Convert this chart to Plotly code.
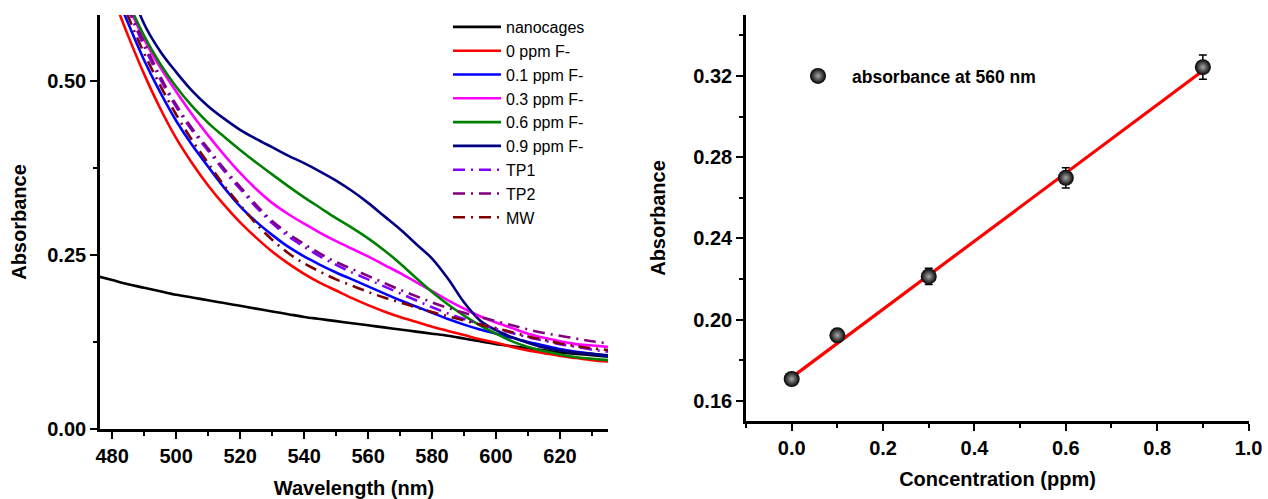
import plotly.graph_objects as go

# ---------------- Left panel data (UV-Vis spectra) ----------------
wavelength = [475, 480, 485, 490, 495, 500, 505, 510, 515, 520, 525, 530, 535, 540, 545, 550, 555,
              560, 565, 570, 575, 580, 585, 590, 595, 600, 605, 610, 615, 620, 625, 630, 635]
nanocages = [0.220, 0.214, 0.208, 0.203, 0.198, 0.193, 0.189, 0.185, 0.181, 0.177, 0.173, 0.169, 0.165,
             0.161, 0.158, 0.155, 0.152, 0.149, 0.146, 0.143, 0.140, 0.137, 0.134, 0.130, 0.126, 0.122,
             0.119, 0.116, 0.113, 0.110, 0.108, 0.106, 0.104]
ppm_0 = [0.690, 0.625, 0.565, 0.510, 0.461, 0.418, 0.382, 0.350, 0.322, 0.297, 0.275, 0.255, 0.238,
         0.223, 0.210, 0.199, 0.188, 0.178, 0.169, 0.161, 0.154, 0.147, 0.141, 0.135, 0.129, 0.124,
         0.118, 0.113, 0.109, 0.105, 0.102, 0.099, 0.097]
ppm_0_1 = [0.700, 0.640, 0.583, 0.530, 0.484, 0.443, 0.408, 0.377, 0.347, 0.320, 0.298, 0.279, 0.262,
           0.248, 0.236, 0.225, 0.215, 0.205, 0.195, 0.185, 0.176, 0.167, 0.158, 0.150, 0.143, 0.137,
           0.131, 0.125, 0.120, 0.115, 0.111, 0.108, 0.105]
ppm_0_3 = [0.750, 0.680, 0.610, 0.560, 0.520, 0.485, 0.452, 0.422, 0.394, 0.368, 0.345, 0.325, 0.309,
           0.295, 0.282, 0.270, 0.259, 0.248, 0.236, 0.224, 0.211, 0.198, 0.185, 0.173, 0.162, 0.153,
           0.145, 0.137, 0.131, 0.126, 0.122, 0.120, 0.118]
ppm_0_6 = [0.780, 0.685, 0.615, 0.565, 0.525, 0.492, 0.464, 0.440, 0.420, 0.401, 0.383, 0.366, 0.349,
           0.333, 0.318, 0.303, 0.289, 0.274, 0.257, 0.238, 0.217, 0.197, 0.179, 0.163, 0.149, 0.137,
           0.126, 0.118, 0.112, 0.107, 0.103, 0.101, 0.099]
ppm_0_9 = [0.820, 0.740, 0.645, 0.582, 0.543, 0.513, 0.486, 0.464, 0.446, 0.430, 0.417, 0.405, 0.393,
           0.382, 0.370, 0.357, 0.342, 0.325, 0.306, 0.287, 0.266, 0.245, 0.216, 0.182, 0.156, 0.142,
           0.132, 0.124, 0.117, 0.113, 0.110, 0.108, 0.106]
tp1 = [0.710, 0.660, 0.603, 0.550, 0.503, 0.463, 0.429, 0.400, 0.371, 0.345, 0.319, 0.296, 0.277,
       0.262, 0.248, 0.236, 0.225, 0.215, 0.205, 0.195, 0.185, 0.175, 0.166, 0.158, 0.151, 0.144,
       0.138, 0.132, 0.127, 0.122, 0.118, 0.114, 0.111]
tp2 = [0.710, 0.660, 0.606, 0.555, 0.507, 0.466, 0.432, 0.403, 0.374, 0.348, 0.322, 0.299, 0.281,
       0.266, 0.252, 0.240, 0.230, 0.220, 0.210, 0.200, 0.191, 0.182, 0.174, 0.167, 0.161, 0.155,
       0.149, 0.143, 0.138, 0.134, 0.130, 0.126, 0.123]
mw = [0.700, 0.650, 0.593, 0.540, 0.494, 0.452, 0.415, 0.382, 0.350, 0.322, 0.295, 0.272, 0.253,
      0.238, 0.226, 0.215, 0.206, 0.197, 0.189, 0.182, 0.175, 0.168, 0.162, 0.156, 0.150, 0.145,
      0.139, 0.133, 0.128, 0.123, 0.119, 0.116, 0.1135]

spectra_names = ["nanocages", "0 ppm F-", "0.1 ppm F-", "0.3 ppm F-", "0.6 ppm F-", "0.9 ppm F-", "TP1", "TP2", "MW"]
spectra_values = [nanocages, ppm_0, ppm_0_1, ppm_0_3, ppm_0_6, ppm_0_9, tp1, tp2, mw]
spectra_colors = ["#000000", "#ff0000", "#0000ff", "#ff00ff", "#008000", "#000080", "#8000ff", "#800080", "#800000"]
spectra_dash = ["solid"] * 6 + ["12px,6px,2px,6px"] * 3

# ---------------- Right panel data (calibration) ----------------
concentration = [0.0, 0.1, 0.3, 0.6, 0.9]
absorbance_560 = [0.1707, 0.1922, 0.2212, 0.2698, 0.3243]
abs_error = [0.002, 0.003, 0.004, 0.005, 0.006]
fit_x = [0.0, 0.9]
fit_y = [0.1715, 0.3225]

W, H = 1268, 499
FONT = "Liberation Sans, Arial, sans-serif"

fig = go.Figure()

for name, vals, col, dash in zip(spectra_names, spectra_values, spectra_colors, spectra_dash):
    fig.add_trace(go.Scatter(
        x=wavelength, y=vals, mode="lines", name=name,
        line=dict(color=col, width=2.6, dash=dash, shape="spline", smoothing=1.0),
        xaxis="x", yaxis="y", legend="legend",
    ))

fig.add_trace(go.Scatter(
    x=fit_x, y=fit_y, mode="lines", showlegend=False,
    line=dict(color="#ff0000", width=3.2),
    xaxis="x2", yaxis="y2",
))
fig.add_trace(go.Scatter(
    x=concentration, y=absorbance_560, mode="markers", name="absorbance at 560 nm",
    marker=dict(size=16, color="#000000", gradient=dict(type="radial", color="#a8a8a8"),
                line=dict(width=0)),
    error_y=dict(type="data", array=abs_error, visible=True, color="#000000", thickness=1.5, width=4),
    xaxis="x2", yaxis="y2", legend="legend2",
))

def px_x(p):
    return p / W

def px_y(p):
    return (H - p) / H

axis_common = dict(
    showline=True, linecolor="black", linewidth=2.6, mirror=False,
    ticks="outside", ticklen=7, tickwidth=2.4, tickcolor="black",
    showgrid=False, zeroline=False, automargin=False,
    tickfont=dict(family=FONT, size=20, color="black", weight="bold"),
)
title_font = dict(family=FONT, size=20, color="black", weight="bold")

fig.update_layout(
    width=W, height=H,
    margin=dict(l=0, r=0, t=0, b=0, autoexpand=False),
    paper_bgcolor="white", plot_bgcolor="white",
    xaxis=dict(domain=[px_x(100), px_x(608)], range=[476.2, 635], anchor="y",
               tick0=480, dtick=20,
               minor=dict(ticks="outside", ticklen=4, tickwidth=2.2, tickcolor="black", dtick=10, tick0=480),
               title=dict(text="Wavelength (nm)", font=title_font, standoff=16),
               **axis_common),
    yaxis=dict(domain=[px_y(429), px_y(15)], range=[0, 0.595], anchor="x",
               tick0=0, dtick=0.25, tickformat=".2f",
               minor=dict(ticks="outside", ticklen=4, tickwidth=2.2, tickcolor="black", dtick=0.125, tick0=0),
               title=dict(text="Absorbance", font=title_font, standoff=16),
               **axis_common),
    xaxis2=dict(domain=[px_x(746), px_x(1249)], range=[-0.1, 1.001], anchor="y2",
                tick0=0, dtick=0.2, tickformat=".1f",
                minor=dict(ticks="outside", ticklen=4, tickwidth=2.2, tickcolor="black", dtick=0.1, tick0=0),
                title=dict(text="Concentration (ppm)", font=title_font, standoff=15),
                **axis_common),
    yaxis2=dict(domain=[px_y(421), px_y(15)], range=[0.15, 0.35], anchor="x2",
                tick0=0.16, dtick=0.04, tickformat=".2f",
                minor=dict(ticks="outside", ticklen=4, tickwidth=2.2, tickcolor="black", dtick=0.02, tick0=0.16),
                title=dict(text="Absorbance", font=title_font, standoff=23),
                **axis_common),
    legend=dict(x=px_x(448), y=px_y(10), xanchor="left", yanchor="top",
                bgcolor="rgba(0,0,0,0)", borderwidth=0, itemwidth=48,
                font=dict(family=FONT, size=16, color="black"), tracegroupgap=0),
    legend2=dict(x=px_x(784), y=px_y(58), xanchor="left", yanchor="top",
                 bgcolor="rgba(0,0,0,0)", borderwidth=0, itemwidth=58,
                 font=dict(family=FONT, size=17.5, color="black", weight="bold")),
)

fig.write_html(
    "out.html",
    config={"displayModeBar": False},
    post_script="document.body.style.margin='0px';document.body.style.overflow='hidden';",
)
